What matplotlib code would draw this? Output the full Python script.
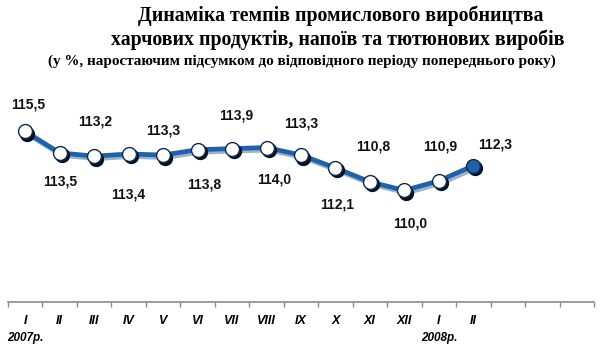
import numpy as np
import matplotlib.pyplot as plt
from matplotlib import transforms

# Dani
months = ["I", "II", "III", "IV", "V", "VI", "VII", "VIII", "IX", "X", "XI", "XII",
          "I", "II", "", "", ""]
values = [115.5, 113.5, 113.2, 113.4, 113.3, 113.8, 113.9, 114.0,
          113.3, 112.1, 110.8, 110.0, 110.9, 112.3]
value_labels = ["115,5", "113,5", "113,2", "113,4", "113,3", "113,8", "113,9", "114,0",
                "113,3", "112,1", "110,8", "110,0", "110,9", "112,3"]
# label offsets in pixels (dx, dy up)
label_dx = [3, 0, 1, 0, 0, 7, 4, 8, 0, 2, 3, 6, 1, 22]
label_dy = [27, -29, 35, -41, 25, -35, 33, -32, 32, -37, 35, -33, 34, 21]
years = ["2007р.", "2008р."]
year_pos = [0, 12]

line_color = "#1c62ad"
dpi = 100
fig = plt.figure(figsize=(6.0, 3.52), dpi=dpi)
ax = fig.add_axes([8 / 600, 1 - 302 / 352, 586 / 600, 207 / 352])

x = np.arange(len(values))
px = 72.0 / dpi  # pixel -> points

# shadow of the line and markers
shadow = transforms.offset_copy(ax.transData, fig=fig, x=2.0, y=-2.5, units="dots")
ax.plot(x, values, color="#0b1f3a", lw=3.4, transform=shadow, zorder=1, alpha=0.35,
        solid_capstyle="round")
ax.plot(x, values, color=line_color, lw=3.4, zorder=2, solid_capstyle="round")
ax.plot(x, values, "o", ms=10, color="#06121f", mec="#06121f", transform=shadow, zorder=3)
ax.plot(x[:-1], values[:-1], "o", ms=10, mfc="white", mec="#0d2a4f", mew=1.0, zorder=4)
ax.plot(x[-1:], values[-1:], "o", ms=10, mfc=line_color, mec="#0d2a4f", mew=1.0, zorder=4)

for i in range(len(values)):
    ax.annotate(value_labels[i], (x[i], values[i]),
                xytext=(label_dx[i] * px, label_dy[i] * px), textcoords="offset points",
                ha="center", va="center", fontsize=10, fontweight="bold",
                family="Liberation Sans", color="#111111")

ax.set_xlim(-0.5, len(months) - 0.5)
ax.set_ylim(99.6, 118.9)

for s in ["top", "right", "left"]:
    ax.spines[s].set_visible(False)
ax.spines["bottom"].set_color("#8a8a8a")
ax.spines["bottom"].set_linewidth(1.2)
ax.set_yticks([])
ax.set_xticks(np.arange(-0.5, len(months), 1.0))
ax.set_xticklabels([])
ax.tick_params(axis="x", length=3.5, width=1, color="#8a8a8a", direction="out")

xt = transforms.blended_transform_factory(ax.transData, fig.transFigure)
for i, m in enumerate(months):
    ax.text(i, 1 - 321 / 352, m, transform=xt, ha="center", va="center",
            fontsize=9, fontweight="bold", fontstyle="italic", family="Liberation Sans")
for yl, p in zip(years, year_pos):
    ax.text(p, 1 - 338 / 352, yl, transform=xt, ha="center", va="center",
            fontsize=8.5, fontweight="bold", fontstyle="italic", family="Liberation Sans")

fig.text(341 / 600, 1 - 16 / 352, "Динаміка темпів промислового виробництва",
         ha="center", va="center", fontsize=14.3, fontweight="bold", family="Liberation Serif")
fig.text(338 / 600, 1 - 40 / 352, "харчових продуктів, напоїв та тютюнових виробів",
         ha="center", va="center", fontsize=14.3, fontweight="bold", family="Liberation Serif")
fig.text(302 / 600, 1 - 61 / 352,
         "(у %, наростаючим підсумком до відповідного періоду попереднього року)",
         ha="center", va="center", fontsize=10.9, fontweight="bold", family="Liberation Serif")

fig.savefig("out.png", dpi=dpi)
